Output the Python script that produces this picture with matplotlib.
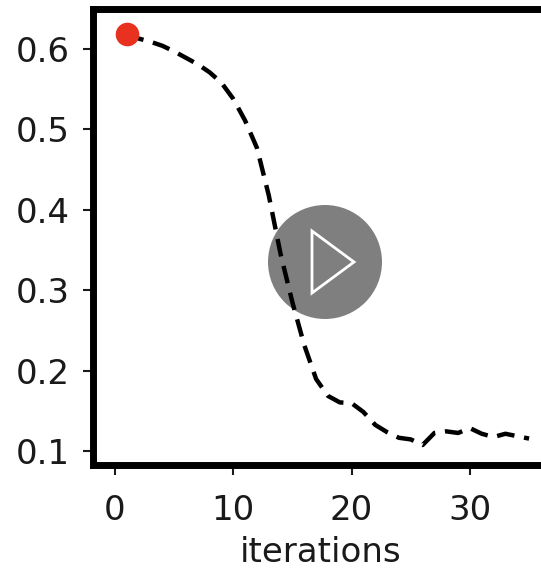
import matplotlib
matplotlib.use('Agg')
import matplotlib.pyplot as plt
from matplotlib.patches import Ellipse, Polygon

iterations = list(range(1, 36))
values = [0.619, 0.613, 0.609, 0.604, 0.597, 0.589, 0.581, 0.571, 0.558, 0.538,
          0.511, 0.477, 0.418, 0.345, 0.285, 0.232, 0.190, 0.169, 0.161, 0.160,
          0.149, 0.133, 0.124, 0.117, 0.115, 0.108, 0.123, 0.125, 0.123, 0.129,
          0.122, 0.118, 0.122, 0.119, 0.116]
xticks = [0, 10, 20, 30]
yticks = [0.1, 0.2, 0.3, 0.4, 0.5, 0.6]

W, H = 541, 570
fig = plt.figure(figsize=(W / 100, H / 100), dpi=100)

# axes run a little past the right edge, the right spine is cropped off
ax = fig.add_axes([93 / W, 1 - 465 / H, (548 - 93) / W, (465 - 9) / H])
ax.plot(iterations, values, color='black', lw=3.2, dashes=(4, 2.2))
ax.plot(iterations[0], values[0], 'o', color='#e8321f', ms=17, mew=0, zorder=5)

ax.set_xlim(-1.86, 36.6)
ax.set_ylim(0.0832, 0.6497)
ax.set_xticks(xticks)
ax.set_yticks(yticks)
ax.tick_params(labelsize=24.5, length=7, width=1.5, colors='#1a1a1a')
ax.tick_params(axis='x', pad=14)
ax.tick_params(axis='y', pad=10)
ax.set_xlabel('iterations', fontsize=24.5, color='#1a1a1a', labelpad=6.5)
for s in ax.spines.values():
    s.set_linewidth(5)

# video play button on top of the picture
bx, by, r = 325 / W, 1 - 262 / H, 57
fig.add_artist(Ellipse((bx, by), 2 * r / W, 2 * r / H, transform=fig.transFigure,
                       color='black', alpha=0.5, lw=0))
tri = [(312 / W, 1 - 231 / H), (354 / W, 1 - 262 / H), (312 / W, 1 - 293 / H)]
fig.add_artist(Polygon(tri, closed=True, transform=fig.transFigure,
                       fill=False, edgecolor='white', lw=2))

fig.savefig('out.png', dpi=100)
